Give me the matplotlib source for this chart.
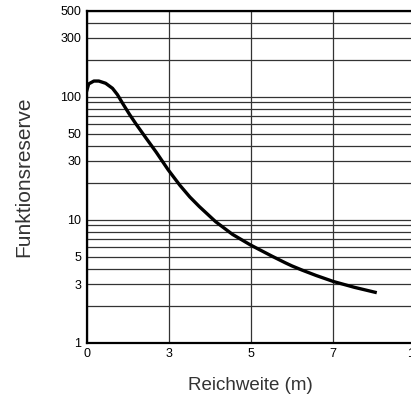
import numpy as np
import matplotlib
matplotlib.use("Agg")
import matplotlib.pyplot as plt
from matplotlib.ticker import FixedLocator, NullFormatter

plt.rcParams['font.family'] = ['Liberation Sans', 'DejaVu Sans']

# Data
reichweite = [0.0, 0.08, 0.27, 0.45, 0.70, 0.95, 1.13, 1.32, 1.57, 1.81, 2.18,
              2.55, 2.99, 3.28, 3.52, 3.75, 4.15, 4.56, 5.0, 5.53, 5.85,
              6.01, 6.26, 6.6, 7.04, 7.8, 8.62]
funktionsreserve = [110, 127, 134, 134, 128.5, 117, 104, 88.4, 72, 60, 46,
                    35.4, 25.4, 19.0, 15.3, 12.8, 9.63, 7.6, 6.23, 5.04, 4.46,
                    4.21, 3.89, 3.52, 3.14, 2.82, 2.55]

x_ticks = [0, 3, 5, 7, 10]
y_ticks = [1, 3, 5, 10, 30, 50, 100, 300, 500]
y_grid = [v * d for d in (1, 10, 100) for v in range(1, 10) if v * d <= 500]

# nonlinear x axis: ticks equally spaced
xt_pos = np.arange(len(x_ticks), dtype=float)
def fwd(x):
    return np.interp(x, x_ticks, xt_pos)
def inv(p):
    return np.interp(p, xt_pos, x_ticks)

W, H = 411, 398
fig = plt.figure(figsize=(W / 100, H / 100), dpi=100)
left, right = 86.5 / W, 414.5 / W
top, bottom = 1 - 10.7 / H, 1 - 342.7 / H
ax = fig.add_axes([left, bottom, right - left, top - bottom])

ax.set_yscale('log')
ax.set_xscale('function', functions=(fwd, inv))
ax.set_xlim(0, 10)
ax.set_ylim(1, 500)

for yv in y_grid:
    ax.axhline(yv, color='#333333', lw=0.9, zorder=1)
for xv in x_ticks:
    ax.axvline(xv, color='#333333', lw=0.9, zorder=1)

ax.plot(reichweite, funktionsreserve, color='black', lw=2.4,
        solid_capstyle='butt', solid_joinstyle='round', zorder=3)

ax.yaxis.set_major_locator(FixedLocator(y_ticks))
ax.yaxis.set_minor_locator(FixedLocator([]))
ax.set_yticklabels([str(v) for v in y_ticks])
ax.yaxis.set_minor_formatter(NullFormatter())
ax.xaxis.set_major_locator(FixedLocator(x_ticks))
ax.xaxis.set_minor_locator(FixedLocator([]))
ax.set_xticklabels([str(v) for v in x_ticks])
ax.tick_params(length=0, labelsize=9, pad=4, colors='black')

for s in ['left', 'bottom', 'top']:
    ax.spines[s].set_linewidth(1.6)
    ax.spines[s].set_color('black')
ax.spines['right'].set_visible(False)

ax.set_xlabel('Reichweite (m)', fontsize=13.5, color='#333333', labelpad=12)
ax.set_ylabel('Funktionsreserve', fontsize=15, color='#333333', labelpad=19)

fig.savefig('out.png', dpi=100)
